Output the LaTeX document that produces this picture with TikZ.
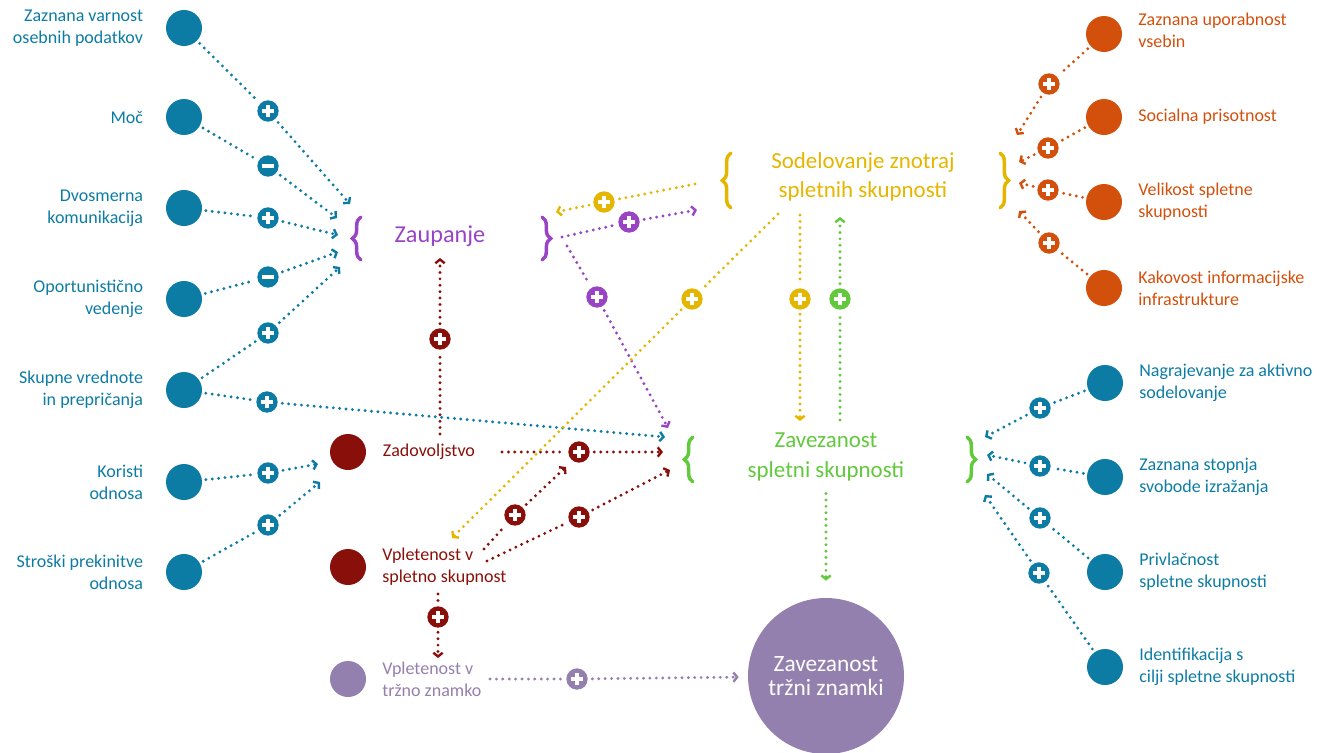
\documentclass[tikz,border=0pt]{standalone}
\usepackage{fontspec}
\setmainfont{Carlito}
\usetikzlibrary{positioning,arrows.meta,decorations.pathreplacing}
\definecolor{cblue}{RGB}{13,124,165}
\definecolor{cpurple}{RGB}{153,68,196}
\definecolor{cyellow}{RGB}{228,182,0}
\definecolor{cgreen}{RGB}{98,200,60}
\definecolor{corange}{RGB}{211,80,12}
\definecolor{cmaroon}{RGB}{137,16,10}
\definecolor{clilac}{RGB}{148,128,174}
\begin{document}
\begin{tikzpicture}[x=0.75pt,y=-0.75pt,
  ball/.style={circle,fill=#1,minimum size=27pt,inner sep=0pt,outer sep=3pt},
  sgn/.style={circle,fill=#1,minimum size=16pt,inner sep=0pt,outer sep=3.5pt},
  plussign/.style={sgn=#1,path picture={
    \draw[white,line width=2.3pt]
      ([xshift=-4.6pt]path picture bounding box.center) -- ([xshift=4.6pt]path picture bounding box.center)
      ([yshift=-4.6pt]path picture bounding box.center) -- ([yshift=4.6pt]path picture bounding box.center);}},
  minussign/.style={sgn=#1,path picture={
    \draw[white,line width=2.3pt]
      ([xshift=-4.6pt]path picture bounding box.center) -- ([xshift=4.6pt]path picture bounding box.center);}},
  arr/.style={draw=#1,line width=2.4pt,line cap=round,dash pattern=on 0pt off 4.8pt,
    -{Straight Barb[length=2.8pt,width=7pt,line width=1.8pt]}},
  lbl/.style={text=#1,align=right,inner sep=2pt,font=\fontsize{13.5}{16.3}\selectfont},
  rbl/.style={text=#1,align=left,inner sep=2pt,font=\fontsize{13.5}{16.3}\selectfont},
  head/.style={text=#1,align=center,font=\fontsize{17.2}{22}\selectfont},
  curly/.style={draw=#1,line width=2.6pt,line cap=round,decorate,decoration={brace,amplitude=6.5pt}},
]
\useasboundingbox (0,0) rectangle (1328,753);

% left column
\node[ball=cblue] (L1) at (184,28) {};
\node[lbl=cblue,left=12pt of L1] (L1t) {Zaznana varnost\\osebnih podatkov};
\node[ball=cblue] (L2) at (184,117) {};
\node[lbl=cblue,left=12pt of L2] (L2t) {Moč};
\node[ball=cblue] (L3) at (184,208) {};
\node[lbl=cblue,left=12pt of L3] (L3t) {Dvosmerna\\komunikacija};
\node[ball=cblue] (L4) at (184,299) {};
\node[lbl=cblue,left=12pt of L4] (L4t) {Oportunistično\\vedenje};
\node[ball=cblue] (L5) at (184,390) {};
\node[lbl=cblue,left=12pt of L5] (L5t) {Skupne vrednote\\in prepričanja};
\node[ball=cblue] (L6) at (184,482) {};
\node[lbl=cblue,left=12pt of L6] (L6t) {Koristi\\odnosa};
\node[ball=cblue] (L7) at (184,572) {};
\node[lbl=cblue,left=12pt of L7] (L7t) {Stroški prekinitve\\odnosa};

% middle column
\node[ball=cmaroon] (M1) at (348,452) {};
\node[rbl=cmaroon,right=7.5pt of M1] (M1t) {Zadovoljstvo};
\node[ball=cmaroon] (M2) at (348,567) {};
\node[rbl=cmaroon,right=7pt of M2] (M2t) {Vpletenost v\\spletno skupnost};
\node[ball=clilac] (M3) at (348,679) {};
\node[rbl=clilac,right=7pt of M3] (M3t) {Vpletenost v\\tržno znamko};

% right column
\node[ball=corange] (R1) at (1104,34) {};
\node[rbl=corange,right=7pt of R1,yshift=2.5pt] (R1t) {Zaznana uporabnost\\vsebin};
\node[ball=corange] (R2) at (1104,117) {};
\node[rbl=corange,right=7pt of R2] (R2t) {Socialna prisotnost};
\node[ball=corange] (R3) at (1104,202) {};
\node[rbl=corange,right=7pt of R3] (R3t) {Velikost spletne\\skupnosti};
\node[ball=corange] (R4) at (1104,288) {};
\node[rbl=corange,right=7pt of R4] (R4t) {Kakovost informacijske\\infrastrukture};
\node[ball=cblue] (R5) at (1105,383) {};
\node[rbl=cblue,right=7pt of R5] (R5t) {Nagrajevanje za aktivno\\sodelovanje};
\node[ball=cblue] (R6) at (1105,477) {};
\node[rbl=cblue,right=7pt of R6] (R6t) {Zaznana stopnja\\svobode izražanja};
\node[ball=cblue] (R7) at (1105,572) {};
\node[rbl=cblue,right=7pt of R7] (R7t) {Privlačnost\\spletne skupnosti};
\node[ball=cblue] (R8) at (1105,667) {};
\node[rbl=cblue,right=7pt of R8] (R8t) {Identifikacija s\\cilji spletne skupnosti};

% constructs
\node[head=cpurple,font=\fontsize{18.2}{20}\selectfont] (zaup) at (440,236) {Zaupanje};
\draw[curly=cpurple] (361,260) -- (361,217);
\draw[curly=cpurple] (542,217) -- (542,260);
\node[head=cyellow] (sodel) at (863,177) {Sodelovanje znotraj\\spletnih skupnosti};
\draw[curly=cyellow] (731,208) -- (731,153);
\draw[curly=cyellow] (1000,153) -- (1000,208);
\node[head=cgreen] (zavez) at (826,457) {Zavezanost\\spletni skupnosti};
\draw[curly=cgreen] (693,482) -- (693,437);
\draw[curly=cgreen] (967,437) -- (967,482);
\node[circle,fill=clilac,minimum size=117pt,inner sep=0pt,outer sep=7pt,text=white,align=center,
  font=\fontsize{17.5}{18.5}\selectfont] (brand) at (826,676) {Zavezanost\\tržni znamki};

% signs
\node[plussign=cblue] (p1) at (268,111) {};
\node[minussign=cblue] (p2) at (268,166) {};
\node[plussign=cblue] (p3) at (268,218) {};
\node[minussign=cblue] (p4) at (268,277) {};
\node[plussign=cblue] (p5) at (268,333) {};
\node[plussign=cblue] (p6) at (267,402) {};
\node[plussign=cblue] (p7) at (268,473) {};
\node[plussign=cblue] (p8) at (268,525) {};
\node[plussign=cmaroon] (p9) at (440,339) {};
\node[plussign=cmaroon] (p10) at (579,452) {};
\node[plussign=cmaroon] (p11) at (515,515) {};
\node[plussign=cmaroon] (p12) at (579,517) {};
\node[plussign=cmaroon] (p13) at (438,617) {};
\node[plussign=clilac] (p14) at (577,679) {};
\node[plussign=cpurple] (p15) at (629,222) {};
\node[plussign=cpurple] (p16) at (597,297) {};
\node[plussign=cyellow] (p17) at (604,202) {};
\node[plussign=cyellow] (p18) at (692,299) {};
\node[plussign=cyellow] (p19) at (800,299) {};
\node[plussign=cgreen] (p20) at (840,299) {};
\node[plussign=corange] (p21) at (1049,84) {};
\node[plussign=corange] (p22) at (1048,148) {};
\node[plussign=corange] (p23) at (1048,190) {};
\node[plussign=corange] (p24) at (1049,243) {};
\node[plussign=cblue] (p25) at (1040,408) {};
\node[plussign=cblue] (p26) at (1040,466) {};
\node[plussign=cblue] (p27) at (1040,518) {};
\node[plussign=cblue] (p28) at (1039,573) {};

% ends
\coordinate (a1) at (350,204);
\coordinate (a2) at (337,218);
\coordinate (a3) at (338,235);
\coordinate (a4) at (338,252);
\coordinate (a5) at (340,267);
\coordinate (a6) at (665,437);
\coordinate (a7) at (318,464);
\coordinate (a8) at (320,482);
\coordinate (m0) at (440,434);
\coordinate (m1) at (440,258);
\coordinate (m2) at (502,452);
\coordinate (m3) at (663,452);
\coordinate (m4) at (484,549);
\coordinate (m5) at (566,467);
\coordinate (m6) at (487,561);
\coordinate (m7) at (670,470);
\coordinate (m8) at (438,594);
\coordinate (m9) at (438,658);
\coordinate (b0) at (490,679);
\coordinate (u0) at (562,237);
\coordinate (u1) at (697,210);
\coordinate (u2) at (567,246);
\coordinate (u3) at (668,428);
\coordinate (y0) at (695,184);
\coordinate (y1) at (556,212);
\coordinate (y2) at (778,214);
\coordinate (y3) at (452,538);
\coordinate (y4) at (800,215);
\coordinate (y5) at (800,421);
\coordinate (g0) at (840,420);
\coordinate (g1) at (840,217);
\coordinate (o1) at (1017,135);
\coordinate (o2) at (1019,162);
\coordinate (o3) at (1019,183);
\coordinate (o4) at (1019,211);
\coordinate (r1) at (985,437);
\coordinate (r2) at (987,455);
\coordinate (r3) at (987,474);
\coordinate (r4) at (985,495);

% connectors
\draw[arr=cblue] (L1) -- (p1) -- (a1);
\draw[arr=cblue] (L2) -- (p2) -- (a2);
\draw[arr=cblue] (L3) -- (p3) -- (a3);
\draw[arr=cblue] (L4) -- (p4) -- (a4);
\draw[arr=cblue] (L5) -- (p5) -- (a5);
\draw[arr=cblue] (L5) -- (p6) -- (a6);
\draw[arr=cblue] (L6) -- (p7) -- (a7);
\draw[arr=cblue] (L7) -- (p8) -- (a8);
\draw[arr=cmaroon] (m0) -- (p9) -- (m1);
\draw[arr=cmaroon] (m2) -- (p10) -- (m3);
\draw[arr=cmaroon] (m4) -- (p11) -- (m5);
\draw[arr=cmaroon] (m6) -- (p12) -- (m7);
\draw[arr=cmaroon] (m8) -- (p13) -- (m9);
\draw[arr=clilac] (b0) -- (p14) -- (brand);
\draw[arr=cpurple] (u0) -- (p15) -- (u1);
\draw[arr=cpurple] (u2) -- (p16) -- (u3);
\draw[arr=cyellow] (y0) -- (p17) -- (y1);
\draw[arr=cyellow] (y2) -- (p18) -- (y3);
\draw[arr=cyellow] (y4) -- (p19) -- (y5);
\draw[arr=cgreen] (g0) -- (p20) -- (g1);
\draw[arr=cgreen,shorten <=6pt,shorten >=6pt] (zavez) -- (brand);
\draw[arr=corange] (R1) -- (p21) -- (o1);
\draw[arr=corange] (R2) -- (p22) -- (o2);
\draw[arr=corange] (R3) -- (p23) -- (o3);
\draw[arr=corange] (R4) -- (p24) -- (o4);
\draw[arr=cblue] (R5) -- (p25) -- (r1);
\draw[arr=cblue] (R6) -- (p26) -- (r2);
\draw[arr=cblue] (R7) -- (p27) -- (r3);
\draw[arr=cblue] (R8) -- (p28) -- (r4);
\end{tikzpicture}
\end{document}
